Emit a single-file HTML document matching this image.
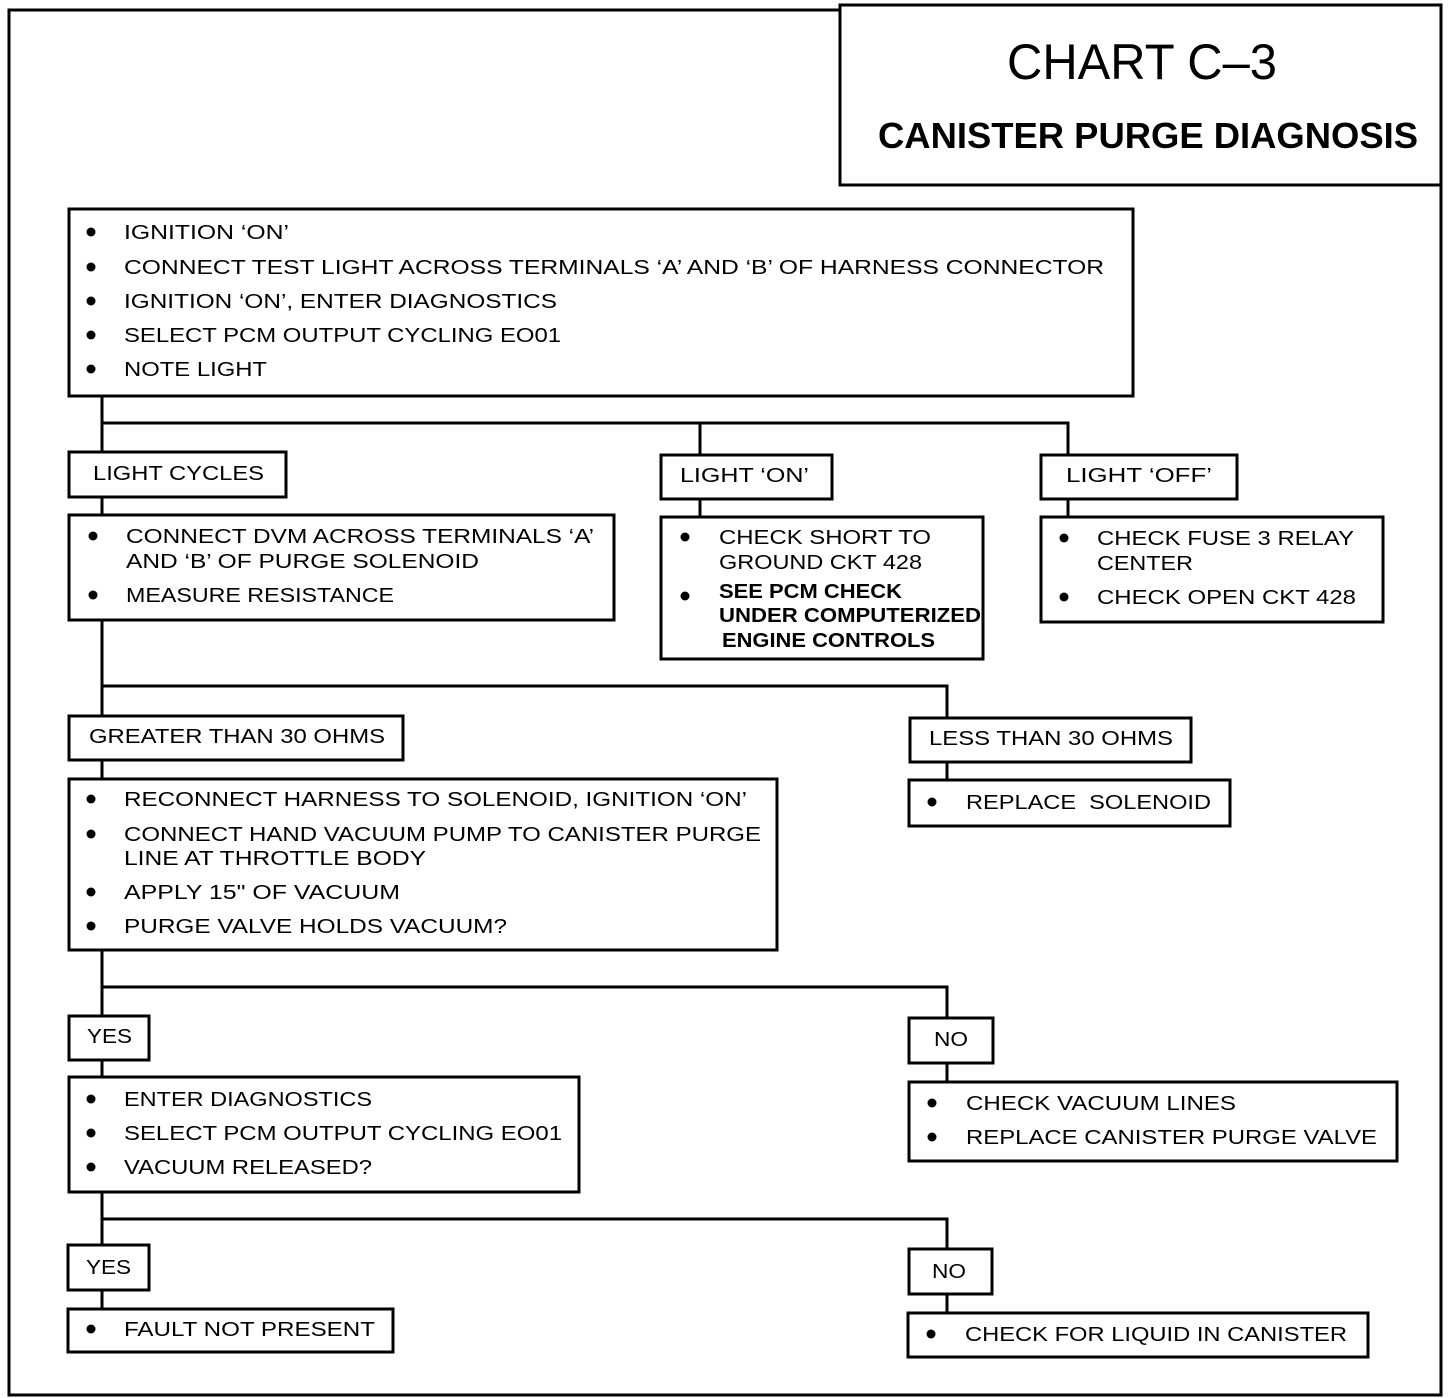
<!DOCTYPE html>
<html><head><meta charset="utf-8"><style>
html,body{margin:0;padding:0;background:#fff;}
svg{display:block;}
text{font-family:"Liberation Sans",sans-serif;font-size:20px;fill:#000;}
.b{font-weight:bold;}
</style></head><body>
<svg width="1456" height="1398" viewBox="0 0 1456 1398" xmlns="http://www.w3.org/2000/svg">
<g fill="none" stroke="#000" stroke-width="3">
<!-- outer frame -->
<polyline points="840,10 9,10 9,1395 1441,1395 1441,185"/>
<rect x="840" y="5" width="601" height="180"/>
<!-- boxes -->
<rect x="69" y="209" width="1064" height="187"/>
<rect x="69" y="452" width="217" height="45"/>
<rect x="661" y="455" width="171" height="44"/>
<rect x="1041" y="455" width="196" height="44"/>
<rect x="69" y="515" width="545" height="105"/>
<rect x="661" y="517" width="322" height="142"/>
<rect x="1041" y="517" width="342" height="105"/>
<rect x="69" y="716" width="334" height="44"/>
<rect x="910" y="718" width="281" height="44"/>
<rect x="69" y="779" width="708" height="171"/>
<rect x="909" y="780" width="321" height="46"/>
<rect x="69" y="1016" width="80" height="44"/>
<rect x="909" y="1018" width="84" height="45"/>
<rect x="69" y="1077" width="510" height="115"/>
<rect x="909" y="1082" width="488" height="79"/>
<rect x="68" y="1245" width="81" height="45"/>
<rect x="909" y="1249" width="83" height="45"/>
<rect x="68" y="1309" width="325" height="43"/>
<rect x="908" y="1313" width="460" height="44"/>
<!-- connectors -->
<polyline points="102,396 102,452"/>
<polyline points="102,423 1068,423 1068,455"/>
<polyline points="700,423 700,455"/>
<line x1="102" y1="497" x2="102" y2="515"/>
<line x1="700" y1="499" x2="700" y2="517"/>
<line x1="1068" y1="499" x2="1068" y2="517"/>
<polyline points="102,620 102,716"/>
<polyline points="102,686 947,686 947,718"/>
<line x1="102" y1="760" x2="102" y2="779"/>
<line x1="947" y1="762" x2="947" y2="780"/>
<polyline points="102,950 102,1016"/>
<polyline points="102,987 947,987 947,1018"/>
<line x1="102" y1="1060" x2="102" y2="1077"/>
<line x1="947" y1="1063" x2="947" y2="1082"/>
<polyline points="102,1192 102,1245"/>
<polyline points="102,1219 947,1219 947,1249"/>
<line x1="102" y1="1290" x2="102" y2="1309"/>
<line x1="947" y1="1294" x2="947" y2="1313"/>
</g>
<g fill="#000">
<circle cx="91" cy="232" r="4.5"/><circle cx="91" cy="267" r="4.5"/><circle cx="91" cy="301" r="4.5"/><circle cx="91" cy="335" r="4.5"/><circle cx="91" cy="369" r="4.5"/>
<circle cx="93" cy="536" r="4.5"/><circle cx="93" cy="595" r="4.5"/>
<circle cx="685" cy="537" r="4.5"/><circle cx="685" cy="596" r="4.5"/>
<circle cx="1064" cy="538" r="4.5"/><circle cx="1064" cy="597" r="4.5"/>
<circle cx="91" cy="799" r="4.5"/><circle cx="91" cy="834" r="4.5"/><circle cx="91" cy="892" r="4.5"/><circle cx="91" cy="926" r="4.5"/>
<circle cx="932" cy="802" r="4.5"/>
<circle cx="91" cy="1099" r="4.5"/><circle cx="91" cy="1133" r="4.5"/><circle cx="91" cy="1167" r="4.5"/>
<circle cx="932" cy="1103" r="4.5"/><circle cx="932" cy="1137" r="4.5"/>
<circle cx="91" cy="1329" r="4.5"/>
<circle cx="931" cy="1334" r="4.5"/>
</g>
<text x="1007" y="79" textLength="270" lengthAdjust="spacingAndGlyphs" style="font-size:50px">CHART C–3</text>
<text x="878" y="148" textLength="540" lengthAdjust="spacingAndGlyphs" class="b" style="font-size:36px">CANISTER PURGE DIAGNOSIS</text>

<text x="124" y="239" textLength="165" lengthAdjust="spacingAndGlyphs">IGNITION ‘ON’</text>
<text x="124" y="274" textLength="980" lengthAdjust="spacingAndGlyphs">CONNECT TEST LIGHT ACROSS TERMINALS ‘A’ AND ‘B’ OF HARNESS CONNECTOR</text>
<text x="124" y="308" textLength="433" lengthAdjust="spacingAndGlyphs">IGNITION ‘ON’, ENTER DIAGNOSTICS</text>
<text x="124" y="342" textLength="437" lengthAdjust="spacingAndGlyphs">SELECT PCM OUTPUT CYCLING EO01</text>
<text x="124" y="376" textLength="143" lengthAdjust="spacingAndGlyphs">NOTE LIGHT</text>

<text x="93" y="480" textLength="171" lengthAdjust="spacingAndGlyphs">LIGHT CYCLES</text>
<text x="680" y="482" textLength="129" lengthAdjust="spacingAndGlyphs">LIGHT ‘ON’</text>
<text x="1066" y="482" textLength="146" lengthAdjust="spacingAndGlyphs">LIGHT ‘OFF’</text>

<text x="126" y="543" textLength="468" lengthAdjust="spacingAndGlyphs">CONNECT DVM ACROSS TERMINALS ‘A’</text>
<text x="126" y="568" textLength="353" lengthAdjust="spacingAndGlyphs">AND ‘B’ OF PURGE SOLENOID</text>
<text x="126" y="602" textLength="268" lengthAdjust="spacingAndGlyphs">MEASURE RESISTANCE</text>

<text x="719" y="544" textLength="212" lengthAdjust="spacingAndGlyphs">CHECK SHORT TO</text>
<text x="719" y="569" textLength="203" lengthAdjust="spacingAndGlyphs">GROUND CKT 428</text>
<text x="719" y="598" textLength="183" lengthAdjust="spacingAndGlyphs" class="b">SEE PCM CHECK</text>
<text x="719" y="622" textLength="262" lengthAdjust="spacingAndGlyphs" class="b">UNDER COMPUTERIZED</text>
<text x="722" y="647" textLength="213" lengthAdjust="spacingAndGlyphs" class="b">ENGINE CONTROLS</text>

<text x="1097" y="545" textLength="257" lengthAdjust="spacingAndGlyphs">CHECK FUSE 3 RELAY</text>
<text x="1097" y="570" textLength="96" lengthAdjust="spacingAndGlyphs">CENTER</text>
<text x="1097" y="604" textLength="259" lengthAdjust="spacingAndGlyphs">CHECK OPEN CKT 428</text>

<text x="89" y="743" textLength="296" lengthAdjust="spacingAndGlyphs">GREATER THAN 30 OHMS</text>
<text x="929" y="745" textLength="244" lengthAdjust="spacingAndGlyphs">LESS THAN 30 OHMS</text>

<text x="124" y="806" textLength="623" lengthAdjust="spacingAndGlyphs">RECONNECT HARNESS TO SOLENOID, IGNITION ‘ON’</text>
<text x="124" y="841" textLength="637" lengthAdjust="spacingAndGlyphs">CONNECT HAND VACUUM PUMP TO CANISTER PURGE</text>
<text x="124" y="865" textLength="302" lengthAdjust="spacingAndGlyphs">LINE AT THROTTLE BODY</text>
<text x="124" y="899" textLength="276" lengthAdjust="spacingAndGlyphs">APPLY 15" OF VACUUM</text>
<text x="124" y="933" textLength="383" lengthAdjust="spacingAndGlyphs">PURGE VALVE HOLDS VACUUM?</text>

<text x="966" y="809" textLength="245" lengthAdjust="spacingAndGlyphs">REPLACE&#160;&#160;SOLENOID</text>

<text x="87" y="1043" textLength="45" lengthAdjust="spacingAndGlyphs">YES</text>
<text x="934" y="1046" textLength="34" lengthAdjust="spacingAndGlyphs">NO</text>

<text x="124" y="1106" textLength="248" lengthAdjust="spacingAndGlyphs">ENTER DIAGNOSTICS</text>
<text x="124" y="1140" textLength="438" lengthAdjust="spacingAndGlyphs">SELECT PCM OUTPUT CYCLING EO01</text>
<text x="124" y="1174" textLength="248" lengthAdjust="spacingAndGlyphs">VACUUM RELEASED?</text>

<text x="966" y="1110" textLength="270" lengthAdjust="spacingAndGlyphs">CHECK VACUUM LINES</text>
<text x="966" y="1144" textLength="411" lengthAdjust="spacingAndGlyphs">REPLACE CANISTER PURGE VALVE</text>

<text x="86" y="1274" textLength="45" lengthAdjust="spacingAndGlyphs">YES</text>
<text x="932" y="1278" textLength="34" lengthAdjust="spacingAndGlyphs">NO</text>

<text x="124" y="1336" textLength="251" lengthAdjust="spacingAndGlyphs">FAULT NOT PRESENT</text>
<text x="965" y="1341" textLength="382" lengthAdjust="spacingAndGlyphs">CHECK FOR LIQUID IN CANISTER</text>
</svg>
</body></html>
